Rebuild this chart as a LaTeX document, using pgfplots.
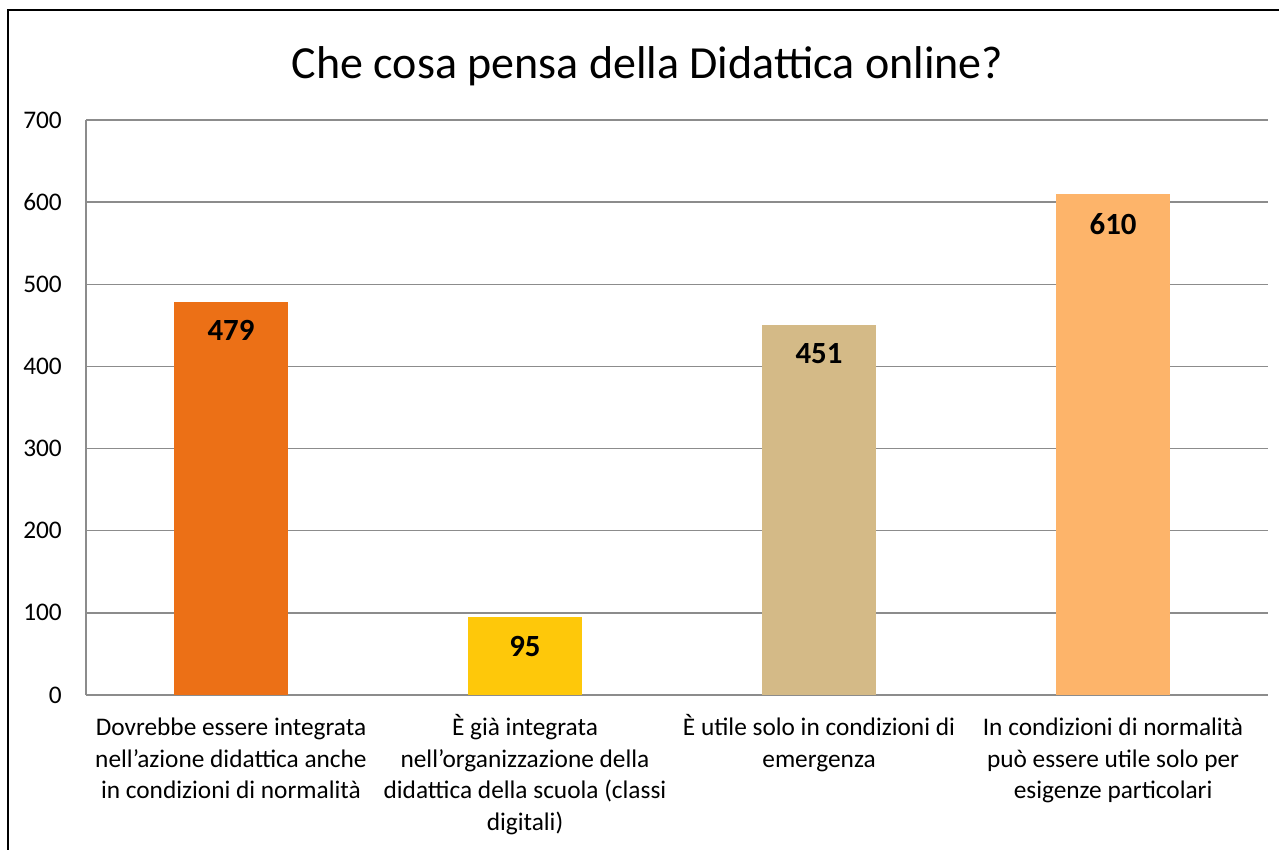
\documentclass[border=0pt]{standalone}
\usepackage{fontspec}
\setmainfont{Carlito}
\usepackage{pgfplots}
\pgfplotsset{compat=1.18}
\definecolor{c1}{HTML}{EC7016}
\definecolor{c2}{HTML}{FEC80A}
\definecolor{c3}{HTML}{D4BA87}
\definecolor{c4}{HTML}{FDB46A}
\definecolor{gridc}{HTML}{8C8C8C}
\newcommand\fs{\rule{0pt}{15pt}}
\begin{document}
\begin{tikzpicture}
\useasboundingbox (0,0) rectangle (767.4pt,509.4pt);
\draw[line width=1.2pt, black] (4.8pt,-20pt) rectangle (790pt,503.4pt);
\node[font=\fontsize{27.6}{32}\selectfont] at (388.5pt,469.5pt) {Che cosa pensa della Didattica online?};
\begin{axis}[
  at={(51.6pt,92.4pt)}, anchor=south west,
  scale only axis, width=709.2pt, height=345pt,
  xmin=-0.493, xmax=3.527, ymin=0, ymax=700,
  ytick={0,100,...,700},
  xtick={0,1,2,3},
  xticklabels={{\fs Dovrebbe essere integrata\\nell’azione didattica anche\\in condizioni di normalità},
               {\fs È già integrata\\nell’organizzazione della\\didattica della scuola (classi\\digitali)},
               {\fs È utile solo in condizioni di\\emergenza},
               {\fs In condizioni di normalità\\può essere utile solo per\\esigenze particolari}},
  xticklabel style={align=center, font=\fontsize{15.2}{18.9}\selectfont, yshift=-6pt},
  yticklabel style={font=\fontsize{15.2}{18}\selectfont, xshift=-11pt},
  /pgf/number format/assume math mode=true,
  major tick length=0pt,
  ymajorgrids, grid style={gridc, line width=0.9pt},
  axis line style={gridc, line width=0.9pt},
  axis x line*=bottom, axis y line*=left,
  x axis line style={-}, y axis line style={-},
  ybar, bar width=68.4pt, bar shift=0pt,
  nodes near coords,
  every node near coord/.append style={anchor=north, yshift=-8pt, font=\fontsize{18.5}{22}\selectfont\bfseries, black},
  clip=false,
]
\addplot[fill=c1, draw=none] coordinates {(0,479)};
\addplot[fill=c2, draw=none] coordinates {(1,95)};
\addplot[fill=c3, draw=none] coordinates {(2,451)};
\addplot[fill=c4, draw=none] coordinates {(3,610)};
\end{axis}
\end{tikzpicture}
\end{document}
